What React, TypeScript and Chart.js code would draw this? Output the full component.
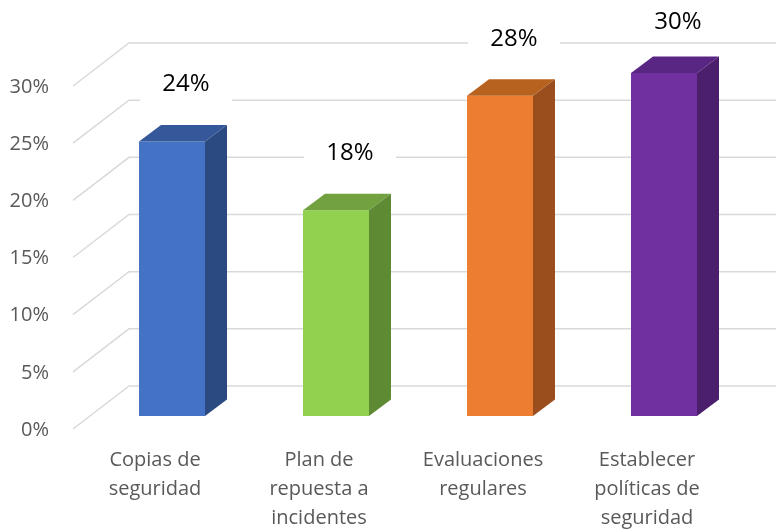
import React, { useEffect, useRef } from "react";
import { Chart, registerables } from "chart.js";

Chart.register(...registerables);

const categories: string[][] = [
  ["Copias de", "seguridad"],
  ["Plan de", "repuesta a", "incidentes"],
  ["Evaluaciones", "regulares"],
  ["Establecer", "políticas de", "seguridad"],
];
const values: number[] = [24, 18, 28, 30];
const yTicks: number[] = [0, 5, 10, 15, 20, 25, 30];

const frontColors = ["#4472C4", "#92D050", "#ED7D31", "#7030A0"];
const topColors = ["#34589A", "#71A23F", "#B8621F", "#5A2683"];
const sideColors = ["#2B4A82", "#5F8A34", "#9A4E1D", "#4B1F6B"];

const FONT = "'Open Sans', 'DejaVu Sans', sans-serif";

// 3D geometry (styles)
const FRONT_DX = 17; // bar plane offset from front plane
const FRONT_DY = 13;
const FLOOR_DX = 56; // full depth
const FLOOR_DY = 43;
const BAR_DX = 22;
const BAR_DY = 16.5;

const threeD = {
  id: "threeD",
  beforeDatasetsDraw(chart: any) {
    const { ctx, chartArea, scales } = chart;
    const y = scales.y;
    ctx.save();
    ctx.strokeStyle = "#D9D9D9";
    ctx.lineWidth = 1.5;
    for (const v of yTicks) {
      const yb = y.getPixelForValue(v);
      const fx = chartArea.left - FRONT_DX;
      const fy = yb + FRONT_DY;
      const bx = fx + FLOOR_DX;
      const by = fy - FLOOR_DY;
      ctx.beginPath();
      ctx.moveTo(fx, fy);
      ctx.lineTo(bx, by);
      ctx.lineTo(chart.width, by);
      ctx.stroke();
    }
    ctx.restore();
  },
  afterDatasetsDraw(chart: any) {
    const { ctx } = chart;
    const meta = chart.getDatasetMeta(0);
    ctx.save();
    meta.data.forEach((bar: any, i: number) => {
      const { x, y, base, width } = bar.getProps(["x", "y", "base", "width"], true);
      const l = x - width / 2;
      const r = x + width / 2;
      // top face
      ctx.fillStyle = topColors[i];
      ctx.beginPath();
      ctx.moveTo(l, y);
      ctx.lineTo(l + BAR_DX, y - BAR_DY);
      ctx.lineTo(r + BAR_DX, y - BAR_DY);
      ctx.lineTo(r, y);
      ctx.closePath();
      ctx.fill();
      // side face
      ctx.fillStyle = sideColors[i];
      ctx.beginPath();
      ctx.moveTo(r, y);
      ctx.lineTo(r + BAR_DX, y - BAR_DY);
      ctx.lineTo(r + BAR_DX, base - BAR_DY);
      ctx.lineTo(r, base);
      ctx.closePath();
      ctx.fill();
    });
    // data labels
    meta.data.forEach((bar: any, i: number) => {
      const { x, y } = bar.getProps(["x", "y"], true);
      const lx = x + 14;
      const ly = Math.max(y - 57, 22);
      ctx.fillStyle = "#FFFFFF";
      ctx.fillRect(lx - 46, ly - 20, 92, 40);
      ctx.fillStyle = "#000000";
      ctx.font = `24px ${FONT}`;
      ctx.textAlign = "center";
      ctx.textBaseline = "middle";
      ctx.fillText(values[i] + "%", lx, ly);
    });
    ctx.restore();
  },
};

export default function App() {
  const ref = useRef<HTMLCanvasElement | null>(null);
  useEffect(() => {
    if (!ref.current) return;
    const chart = new Chart(ref.current, {
      type: "bar",
      data: {
        labels: categories,
        datasets: [
          {
            data: values,
            backgroundColor: frontColors,
            borderWidth: 0,
            barPercentage: 66 / 164,
            categoryPercentage: 1,
          },
        ],
      },
      options: {
        animation: false,
        responsive: false,
        devicePixelRatio: 1,
        layout: { padding: { top: 73, right: 30, left: 0, bottom: 0 } },
        plugins: {
          legend: { display: false },
          tooltip: { enabled: false },
          title: { display: false },
        },
        scales: {
          x: {
            grid: { display: false, drawTicks: false },
            border: { display: false },
            ticks: {
              autoSkip: false,
              maxRotation: 0,
              minRotation: 0,
              labelOffset: -17,
              padding: 30,
              color: "#595959",
              font: { family: FONT, size: 20, lineHeight: 1.45 },
            },
            afterFit: (s: any) => {
              s.height = 113;
            },
          },
          y: {
            min: 0,
            max: 30,
            grid: { display: false, drawTicks: false },
            border: { display: false },
            ticks: {
              stepSize: 5,
              labelOffset: 14,
              padding: 41,
              color: "#595959",
              font: { family: FONT, size: 20 },
              callback: (v: any) => v + "%",
            },
            afterFit: (s: any) => {
              s.width = 90;
            },
          },
        },
      },
      plugins: [threeD],
    });
    return () => chart.destroy();
  }, []);
  return (
    <div style={{ position: "fixed", left: 0, top: 0, width: 776, height: 529, background: "#fff" }}>
      <canvas ref={ref} width={776} height={529} />
    </div>
  );
}
